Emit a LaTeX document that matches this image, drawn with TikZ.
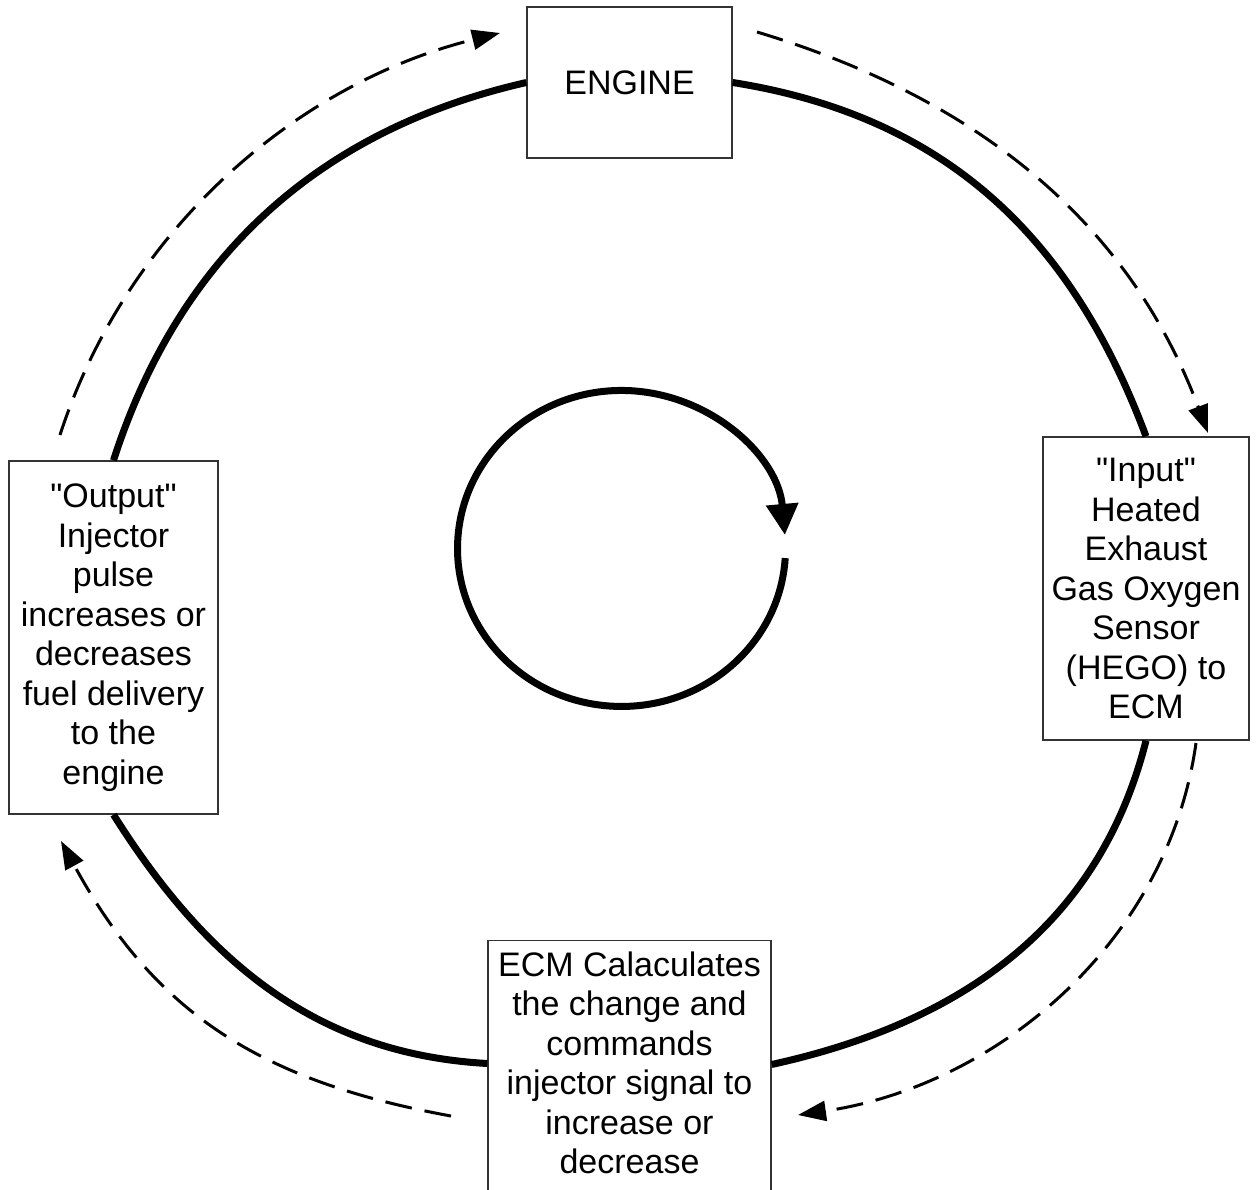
\documentclass[tikz,border=0pt]{standalone}
\usepackage{fontspec}
\setmainfont{Liberation Sans}[Ligatures=TeXOff]
\usetikzlibrary{arrows.meta}
\begin{document}
\begin{tikzpicture}[x=1pt,y=-1pt,
  boxbase/.style={draw=black!80, line width=1.3pt, fill=white, font=\fontsize{34}{39.5}\selectfont},
  box/.style={boxbase, align=center, inner sep=0pt},
  flow/.style={line width=7pt},
  signal/.style={line width=3pt, dash pattern=on 27pt off 13pt, -{Triangle[length=28pt,width=20pt]}},
  spin/.style={line width=7pt, -{Triangle[length=31pt,width=31pt]}}
]
\fill[white] (0,0) rectangle (1259,1190);
\useasboundingbox (0,0) rectangle (1259,1190);
\clip (0,0) rectangle (1259,1190);

% boxes
\node[box, minimum width=205pt, minimum height=151pt] (engine) at (629.5,82.5) {ENGINE};
\node[box, minimum width=206pt, minimum height=303pt] (input) at (1146,588.5)
  {"Input"\\Heated\\Exhaust\\Gas Oxygen\\Sensor\\(HEGO) to\\ECM};
\node[box, minimum width=209pt, minimum height=353pt] (output) at (113.5,637.5)
  {"Output"\\Injector\\pulse\\increases or\\decreases\\fuel delivery\\to the\\engine};
\node[boxbase, anchor=north, inner xsep=0pt, inner ysep=11.25pt] (ecm) at (629.5,939.5)
  {\parbox[t][300pt][t]{283pt}{\centering ECM Calaculates\\the change and\\commands\\injector signal to\\increase or\\decrease}};

% thick loop
\draw[flow] (engine.west) .. controls (318,130) and (179,257) .. (output.north);
\draw[flow] (engine.east) .. controls (944,116) and (1071,235) .. (input.north);
\draw[flow] (input.south) .. controls (1099,926.5) and (960.5,1023) .. ([yshift=-125pt]ecm.north east);
\draw[flow] (output.south) .. controls (205,960) and (315,1054) .. ([yshift=-124pt]ecm.north west);

% dashed signal arrows
\coordinate (tlS) at (60,435);   \coordinate (tlE) at (500,33);
\coordinate (trS) at (757,32);   \coordinate (trE) at (1208,433);
\coordinate (brS) at (1196,743); \coordinate (brE) at (798,1115);
\coordinate (blS) at (451,1116); \coordinate (blE) at (61,841);
\draw[signal] (tlS) .. controls (125.5,233) and (294,84) .. (tlE);
\draw[signal] (trS) .. controls (975,97.5) and (1128,220) .. (trE);
\draw[signal] (brS) .. controls (1168,943) and (996,1086) .. (brE);
\draw[signal] (blS) .. controls (259,1081) and (154,1012) .. (blE);

% central circular arrow
\coordinate (spinS) at (785.2,558.1);
\draw[spin] (spinS) arc[start angle=-3.5, end angle=-355.1, x radius=164pt, y radius=158pt];
\end{tikzpicture}
\end{document}
